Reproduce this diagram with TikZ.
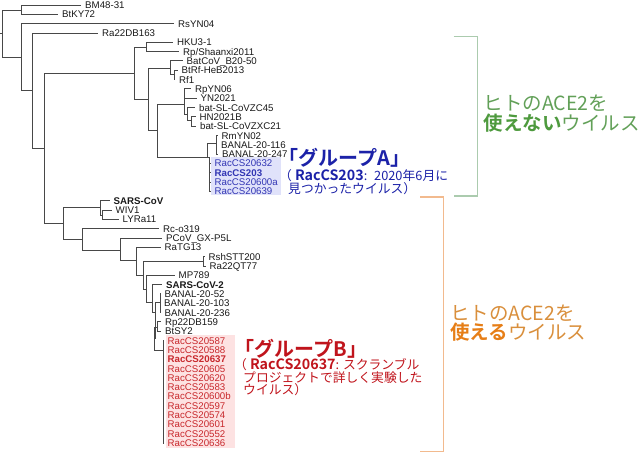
\documentclass[tikz,border=0pt]{standalone}
\usepackage{fontspec}
\setmainfont{Liberation Sans}
\newfontfamily\cjk[BoldFont={Noto Sans CJK JP Bold}]{Noto Sans CJK JP}
\definecolor{treegray}{HTML}{484848}
\definecolor{groupblue}{HTML}{1C22A8}
\definecolor{racblue}{HTML}{3236B4}
\definecolor{boxblue}{HTML}{E0E2FA}
\definecolor{groupred}{HTML}{C0141C}
\definecolor{racred}{HTML}{C8282C}
\definecolor{boxred}{HTML}{FDE2E2}
\definecolor{notegreen}{HTML}{62A058}
\definecolor{boldgreen}{HTML}{4E9A3E}
\definecolor{linegreen}{HTML}{ABCBAE}
\definecolor{noteorange}{HTML}{D98F3C}
\definecolor{boldorange}{HTML}{E67E17}
\definecolor{lineorange}{HTML}{F2BA8E}
\newcommand{\racbold}[1]{{\fontsize{14.3}{12.6}\selectfont\bfseries #1}}
\tikzset{
	branch/.style={draw=treegray, line width=1pt},
	leaf/.style={anchor=west, inner xsep=4pt, inner ysep=0pt, text height=7pt, text depth=0pt, font=\fontsize{9.7}{10}\selectfont, text=black!90},
	leafA/.style={leaf, text=racblue},
	leafB/.style={leaf, text=racred},
	note/.style={anchor=west, inner sep=0pt, align=left},
	bigtitle/.style={note, font=\cjk\bfseries\fontsize{20}{21}\selectfont},
	smallnote/.style={note, font=\cjk\fontsize{12.8}{12.6}\selectfont},
	acenote/.style={note, font=\cjk\fontsize{19.5}{19.6}\selectfont}
}
\begin{document}
\begin{tikzpicture}[x=1pt, y=-1pt]
	\useasboundingbox (0,0) rectangle (640,453);
	% boxes behind the two groups
	\fill[boxblue] (210.5,157) rectangle (281,195);
	\fill[boxred] (166,335) rectangle (235,448);

	% leaves, upper part
	\node[leaf] (bm) at (81,5) {BM48-31};
	\node[leaf] (btky) at (58,14.3) {BtKY72};
	\node[leaf] (rsyn) at (174,23.6) {RsYN04};
	\node[leaf] (rad) at (98,33) {Ra22DB163};
	\node[leaf] (hku) at (173,42.3) {HKU3-1};
	\node[leaf] (rps) at (179,51.6) {Rp/Shaanxi2011};
	\node[leaf] (bat) at (182.5,60.9) {BatCoV\_B20-50};
	\node[leaf] (btrf) at (177.5,70.2) {BtRf-HeB2013};
	\node[leaf] (rf) at (175,79.6) {Rf1};
	\node[leaf] (rpyn) at (191,88.9) {RpYN06};
	\node[leaf] (yn) at (196.5,98.2) {YN2021};
	\node[leaf] (zc) at (195,107.5) {bat-SL-CoVZC45};
	\node[leaf] (hn) at (195.5,116.8) {HN2021B};
	\node[leaf] (zxc) at (196,126.2) {bat-SL-CoVZXC21};
	\node[leaf] (rm) at (217.5,135.5) {RmYN02};
	\node[leaf] (bna) at (217,144.8) {BANAL-20-116};
	\node[leaf] (bnb) at (218,154.1) {BANAL-20-247};
	\node[leafA] (aa) at (210.5,163.4) {RacCS20632};
	\node[leafA] (ab) at (210.5,172.8) {\bfseries RacCS203};
	\node[leafA] (ac) at (210.5,182.1) {RacCS20600a};
	\node[leafA] (ad) at (210.5,191.4) {RacCS20639};

	% leaves, lower part
	\node[leaf] (sars) at (109.5,200.7) {\bfseries SARS-CoV};
	\node[leaf] (wiv) at (111.5,210) {WIV1};
	\node[leaf] (lyra) at (118.5,219.4) {LYRa11};
	\node[leaf] (rco) at (159,228.7) {Rc-o319};
	\node[leaf] (pcov) at (162,238) {PCoV\_GX-P5L};
	\node[leaf] (ratg) at (160.5,247.3) {RaTG13};
	\node[leaf] (rsh) at (204.5,256.6) {RshSTT200};
	\node[leaf] (raq) at (205.5,266) {Ra22QT77};
	\node[leaf] (mp) at (174.5,275.3) {MP789};
	\node[leaf] (sarsb) at (162,284.6) {\bfseries SARS-CoV-2};
	\node[leaf] (bnc) at (160.5,293.9) {BANAL-20-52};
	\node[leaf] (bnd) at (160,303.2) {BANAL-20-103};
	\node[leaf] (bne) at (160.5,312.6) {BANAL-20-236};
	\node[leaf] (rpd) at (161,321.9) {Rp22DB159};
	\node[leaf] (btsy) at (161,331.2) {BtSY2};
	\node[leafB] (ba) at (163.5,340.5) {RacCS20587};
	\node[leafB] (bb) at (163.5,349.8) {RacCS20588};
	\node[leafB] (bc) at (163.5,359.2) {\bfseries RacCS20637};
	\node[leafB] (bd) at (163.5,368.5) {RacCS20605};
	\node[leafB] (be) at (163.5,377.8) {RacCS20620};
	\node[leafB] (bf) at (163.5,387.1) {RacCS20583};
	\node[leafB] (bg) at (163.5,396.4) {RacCS20600b};
	\node[leafB] (bh) at (163.5,405.8) {RacCS20597};
	\node[leafB] (bi) at (163.5,415.1) {RacCS20574};
	\node[leafB] (bj) at (163.5,424.4) {RacCS20601};
	\node[leafB] (bk) at (163.5,433.7) {RacCS20552};
	\node[leafB] (bl) at (163.5,443) {RacCS20636};

	% inner points of the tree
	\coordinate (stem) at (0,33.3);
	\coordinate (root) at (2.5,33.3);
	\coordinate (n1) at (21,10);
	\coordinate (n2) at (21,57);
	\coordinate (n3) at (32,90.5);
	\coordinate (n4) at (44,148.5);
	\coordinate (n5) at (134,73);
	\coordinate (n6) at (63,223.5);
	\coordinate (n7) at (146,47);
	\coordinate (n8) at (148,99);
	\coordinate (n9) at (170,68);
	\coordinate (n10) at (157,130.5);
	\coordinate (n11) at (174,74.5);
	\coordinate (n12) at (184,104);
	\coordinate (n13) at (207,157);
	\coordinate (n14) at (187,114);
	\coordinate (n15) at (191,120);
	\coordinate (n16) at (216,143);
	\coordinate (n17) at (209,157);
	\coordinate (n18) at (100,207.5);
	\coordinate (n19) at (82,239.5);
	\coordinate (n20) at (102,215);
	\coordinate (n21) at (120,250);
	\coordinate (n22) at (136.5,260.7);
	\coordinate (n23) at (143.5,275);
	\coordinate (n24) at (203,261.5);
	\coordinate (n25) at (146.5,289);
	\coordinate (n26) at (152,302.7);
	\coordinate (n27) at (155,312);
	\coordinate (n28) at (160,302);
	\coordinate (n29) at (154,338);
	\coordinate (n30) at (157,327);
	\coordinate (n31) at (163,350);

	% branches
	\draw[branch] (stem) -- (root);
	\foreach \a/\b in {root/n1, root/n2, n1/bm, n1/btky, n2/rsyn, n2/n3, n3/rad, n3/n4,
		n4/n5, n4/n6, n5/n7, n5/n8, n7/hku, n7/rps, n8/n9, n8/n10, n9/bat, n9/n11,
		n11/btrf, n11/rf, n10/n12, n10/n13, n12/rpyn, n12/yn, n12/n14, n14/zc, n14/n15,
		n15/hn, n15/zxc, n13/n16, n13/n17, n16/rm, n16/bna, n16/bnb,
		n17/aa, n17/ab, n17/ac, n17/ad,
		n6/n18, n6/n19, n18/sars, n18/n20, n20/wiv, n20/lyra, n19/rco, n19/n21,
		n21/pcov, n21/n22, n22/ratg, n22/n23, n23/n24, n23/n25, n24/rsh, n24/raq,
		n25/mp, n25/n26, n26/sarsb, n26/n27, n27/n28, n27/n29, n28/bnc, n28/bnd, n28/bne,
		n29/n30, n29/n31, n30/rpd, n30/btsy,
		n31/ba, n31/bb, n31/bc, n31/bd, n31/be, n31/bf, n31/bg, n31/bh, n31/bi, n31/bj, n31/bk, n31/bl}
		\draw[branch] (\a) |- (\b);

	% group texts
	\node[bigtitle, text=groupblue] (titleA) at (278.5,158) {「グループA」};
	\node[smallnote, text=groupblue, anchor=north west] (noteA) at (288,169.5) {\hspace*{-9pt}（\hspace{3pt}\racbold{RacCS203}: \hspace{3pt}2020年6月に\\見つかったウイルス）};
	\node[bigtitle, text=groupred] (titleB) at (234.5,348.5) {「グループB」};
	\node[smallnote, text=groupred, anchor=north west] (noteB) at (243,358.5) {\hspace*{-9pt}（\hspace{3pt}\racbold{RacCS20637}: スクランブル\\プロジェクトで詳しく実験した\\ウイルス）};

	% brackets on the right
	\draw[linegreen, line width=1.4pt] (453.5,36.7) -- (477.3,36.7) -- (477.3,196) -- (453.5,196);
	\draw[lineorange, line width=1.4pt] (420,197) -- (443.3,197) -- (443.3,451.7) -- (420,451.7);
	\node[acenote, text=notegreen] (aceno) at (483.5,113.5) {ヒトのACE2を\\\textcolor{boldgreen}{\textbf{使えない}}ウイルス};
	\node[acenote, text=noteorange] (aceyes) at (450,323) {ヒトのACE2を\\\textcolor{boldorange}{\textbf{使える}}ウイルス};
\end{tikzpicture}
\end{document}
